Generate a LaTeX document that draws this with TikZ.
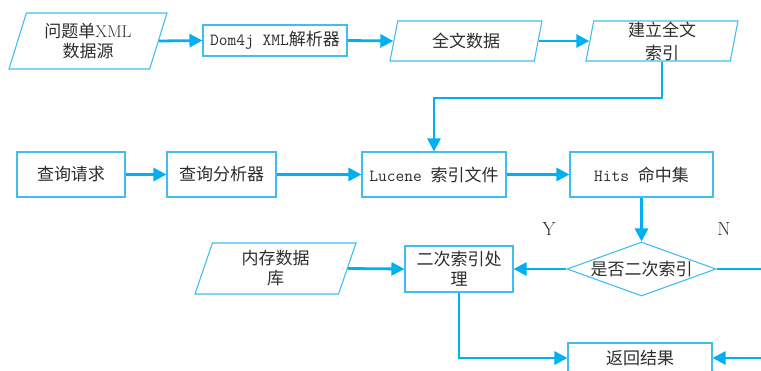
\documentclass[tikz,border=0pt]{standalone}
\usepackage{fontspec}
\newfontfamily\cjk{Noto Sans CJK SC}
\usetikzlibrary{shapes.geometric,arrows.meta}
\definecolor{boxc}{RGB}{64,190,240}
\definecolor{arrc}{RGB}{0,176,240}
\definecolor{txt}{RGB}{45,45,45}
\tikzset{
  box/.style={draw=boxc,line width=1.1pt,rectangle,text=txt,inner sep=0pt,font=\fontsize{17}{20}\selectfont,align=center},
  para/.style={draw=boxc,line width=1.1pt,trapezium,trapezium left angle=64,trapezium right angle=116,trapezium stretches body=true,text=txt,inner sep=0pt,font=\fontsize{17}{20}\selectfont,align=center},
  dec/.style={draw=boxc,line width=1.1pt,diamond,aspect=2.76,text=txt,inner sep=0pt,font=\fontsize{17}{20}\selectfont},
  arr/.style={draw=arrc,line width=2.8pt,-{Triangle[length=13pt,width=13pt]}},
  lbl/.style={text=txt,font=\fontsize{19}{22}\selectfont}
}
\begin{document}
\begin{tikzpicture}[x=1pt,y=-1pt]
\useasboundingbox (0,0) rectangle (761,370);
\clip (0,0) rectangle (761,370);
\node[para,minimum width=158pt,minimum height=56pt] (src) at (88,41) {{\cjk 问题单}XML\\{\cjk 数据源}};
\node[box,minimum width=144pt,minimum height=31pt] (dom) at (275,40.5) {\ttfamily Dom4j XML{\cjk 解析器}};
\node[para,minimum width=152pt,minimum height=40pt] (full) at (466,41) {\cjk 全文数据};
\node[para,minimum width=152pt,minimum height=40pt] (build) at (662,41) {\phantom{\cjk 全文数据}};
\node[text=txt,font=\fontsize{17}{23}\selectfont,align=center] (buildt) at (662,41) {\cjk 建立全文\\\cjk 索引};
\node[box,minimum width=108pt,minimum height=45pt] (req) at (71,174.5) {\cjk 查询请求};
\node[box,minimum width=109pt,minimum height=45pt] (ana) at (221.5,174.5) {\cjk 查询分析器};
\node[box,minimum width=144pt,minimum height=45pt] (luc) at (434,174.5) {\ttfamily Lucene {\cjk 索引文件}};
\node[box,minimum width=143pt,minimum height=45pt] (hits) at (641.5,174.5) {\ttfamily Hits {\cjk 命中集}};
\node[dec,minimum width=149pt,minimum height=54pt] (dia) at (641.5,269) {\cjk 是否二次索引};
\node[box,minimum width=108pt,minimum height=46pt] (sec) at (459,269) {\cjk 二次索引处\\\cjk 理};
\node[para,minimum width=161pt,minimum height=51pt] (mem) at (275.5,268.5) {\cjk 内存数据\\\cjk 库};
\node[box,minimum width=144pt,minimum height=30pt] (ret) at (640,358) {\cjk 返回结果};
\node[lbl] (y) at (549,229) {Y};
\node[lbl] (n) at (724,229) {N};
\coordinate (rN) at (765,269);
\coordinate (rR) at (765,358);
\draw[arr] (src.east) -- (dom.west);
\draw[arr] (dom.east) -- (full.west);
\draw[arr] (full.east) -- (build.west);
\draw[arr] (build.south) -- ++(0,36.5) -| (luc.north);
\draw[arr] (req.east) -- (ana.west);
\draw[arr] (ana.east) -- (luc.west);
\draw[arr] (luc.east) -- (hits.west);
\draw[arr] (hits.south) -- (dia.north);
\draw[arr] (dia.west) -- (sec.east);
\draw[arr] (mem.east) -- (sec.west);
\draw[arr] (sec.south) |- (ret.west);
\draw[draw=arrc,line width=2.8pt] (dia.east) -- (rN);
\draw[arr] (rR) -- (ret.east);
\end{tikzpicture}
\end{document}
